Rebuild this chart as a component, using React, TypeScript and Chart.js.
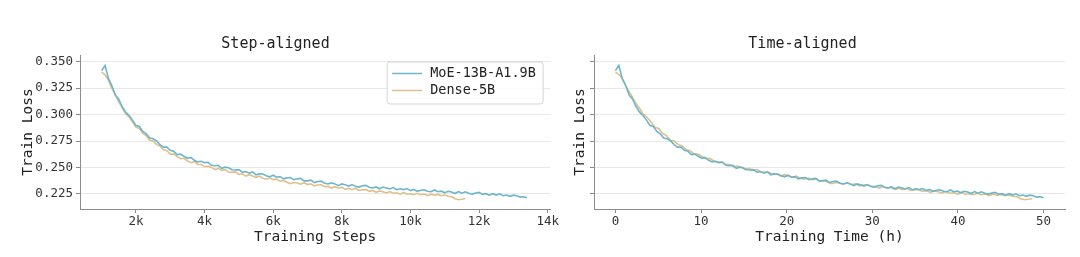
import React, { useEffect, useRef } from "react";
import { Chart, registerables } from "chart.js";

Chart.register(...registerables);

// ---- data -------------------------------------------------------------
const SERIES_NAMES = ["MoE-13B-A1.9B", "Dense-5B"];
const PANEL_TITLES = ["Step-aligned", "Time-aligned"];
const X_TITLES = ["Training Steps", "Training Time (h)"];
const Y_TITLE = "Train Loss";

// logged every STEP_INTERVAL steps starting at STEP_START
const STEP_START = 1000;
const STEP_INTERVAL = 100;
// wall-clock hours covered by each run's logged window
const MOE_TOTAL_HOURS = 50;
const DENSE_TOTAL_HOURS = 48.7;

const MOE_LOSS = [
  0.3415, 0.3465, 0.3340, 0.3273, 0.3184, 0.3145, 0.3074, 0.3023, 0.2992, 0.2948,
  0.2897, 0.2887, 0.2840, 0.2819, 0.2779, 0.2771, 0.2751, 0.2717, 0.2693, 0.2693,
  0.2663, 0.2653, 0.2622, 0.2626, 0.2606, 0.2587, 0.2595, 0.2568, 0.2553, 0.2559,
  0.2546, 0.2550, 0.2521, 0.2517, 0.2521, 0.2493, 0.2503, 0.2498, 0.2479, 0.2476,
  0.2480, 0.2456, 0.2461, 0.2446, 0.2458, 0.2431, 0.2440, 0.2439, 0.2423, 0.2412,
  0.2427, 0.2408, 0.2414, 0.2393, 0.2402, 0.2405, 0.2385, 0.2393, 0.2397, 0.2374,
  0.2374, 0.2380, 0.2358, 0.2368, 0.2371, 0.2351, 0.2344, 0.2355, 0.2345, 0.2328,
  0.2345, 0.2337, 0.2325, 0.2339, 0.2322, 0.2315, 0.2328, 0.2331, 0.2314, 0.2307,
  0.2317, 0.2299, 0.2315, 0.2307, 0.2297, 0.2310, 0.2290, 0.2299, 0.2291, 0.2301,
  0.2282, 0.2293, 0.2275, 0.2286, 0.2290, 0.2275, 0.2271, 0.2288, 0.2271, 0.2277,
  0.2261, 0.2275, 0.2268, 0.2254, 0.2272, 0.2257, 0.2270, 0.2257, 0.2249, 0.2260,
  0.2265, 0.2246, 0.2253, 0.2239, 0.2253, 0.2240, 0.2251, 0.2234, 0.2240, 0.2228,
  0.2239, 0.2233, 0.2220, 0.2224, 0.2214,
];

const DENSE_LOSS = [
  0.3402, 0.3375, 0.3323, 0.3244, 0.3187, 0.3117, 0.3067, 0.3008, 0.2977, 0.2932,
  0.2881, 0.2869, 0.2822, 0.2801, 0.2758, 0.2750, 0.2716, 0.2704, 0.2668, 0.2659,
  0.2626, 0.2627, 0.2605, 0.2583, 0.2587, 0.2562, 0.2546, 0.2556, 0.2529, 0.2529,
  0.2507, 0.2513, 0.2501, 0.2481, 0.2492, 0.2473, 0.2481, 0.2457, 0.2454, 0.2458,
  0.2435, 0.2441, 0.2419, 0.2432, 0.2419, 0.2407, 0.2418, 0.2399, 0.2390, 0.2400,
  0.2386, 0.2390, 0.2371, 0.2378, 0.2361, 0.2347, 0.2358, 0.2354, 0.2343, 0.2356,
  0.2339, 0.2346, 0.2327, 0.2335, 0.2336, 0.2318, 0.2322, 0.2306, 0.2319, 0.2305,
  0.2314, 0.2294, 0.2303, 0.2291, 0.2304, 0.2283, 0.2289, 0.2292, 0.2275, 0.2284,
  0.2266, 0.2279, 0.2271, 0.2260, 0.2273, 0.2257, 0.2261, 0.2248, 0.2264, 0.2247,
  0.2252, 0.2243, 0.2256, 0.2243, 0.2250, 0.2234, 0.2248, 0.2238, 0.2246, 0.2233,
  0.2240, 0.2228, 0.2225, 0.2205, 0.2195, 0.2200, 0.2208,
];

const COLORS = ["#6db6cc", "#dfc08c"];

// axis ranges and ticks
const Y_MIN = 0.2108;
const Y_MAX = 0.3563;
const Y_TICKS = [0.225, 0.25, 0.275, 0.3, 0.325, 0.35];
const STEP_X_MIN = 370;
const STEP_X_MAX = 14072;
const STEP_X_TICKS = [2000, 4000, 6000, 8000, 10000, 12000, 14000];
const TIME_X_MIN = -2.5;
const TIME_X_MAX = 52.5;
const TIME_X_TICKS = [0, 10, 20, 30, 40, 50];

// ---- helpers ------------------------------------------------------------
const FONT = "'DejaVu Sans Mono', monospace";

function stepPoints(loss: number[]) {
  return loss.map((y, i) => ({ x: STEP_START + i * STEP_INTERVAL, y }));
}
function timePoints(loss: number[], totalHours: number) {
  const n = loss.length - 1;
  return loss.map((y, i) => ({ x: (i / n) * totalHours, y }));
}

const legendPlugin = {
  id: "boxLegend",
  afterDraw(chart: any) {
    const area = chart.chartArea;
    const ctx = chart.ctx;
    const w = 156;
    const h = 42;
    const x = area.right - 7 - w;
    const y = area.top + 7;
    ctx.save();
    ctx.beginPath();
    const r = 3;
    ctx.moveTo(x + r, y);
    ctx.lineTo(x + w - r, y);
    ctx.arcTo(x + w, y, x + w, y + r, r);
    ctx.lineTo(x + w, y + h - r);
    ctx.arcTo(x + w, y + h, x + w - r, y + h, r);
    ctx.lineTo(x + r, y + h);
    ctx.arcTo(x, y + h, x, y + h - r, r);
    ctx.lineTo(x, y + r);
    ctx.arcTo(x, y, x + r, y, r);
    ctx.closePath();
    ctx.fillStyle = "rgba(255,255,255,0.85)";
    ctx.fill();
    ctx.strokeStyle = "#d4d4d4";
    ctx.lineWidth = 1;
    ctx.stroke();
    ctx.font = `13.5px ${FONT}`;
    ctx.textBaseline = "middle";
    ctx.textAlign = "left";
    SERIES_NAMES.forEach((name, i) => {
      const ly = y + 11.5 + i * 17;
      ctx.strokeStyle = COLORS[i];
      ctx.lineWidth = 1.5;
      ctx.beginPath();
      ctx.moveTo(x + 5, ly);
      ctx.lineTo(x + 35, ly);
      ctx.stroke();
      ctx.fillStyle = "#222";
      ctx.fillText(name, x + 43, ly);
    });
    ctx.restore();
  },
};

function setTicks(values: number[]) {
  return (scale: any) => {
    scale.ticks = values.map((value) => ({ value }));
  };
}

function makeConfig(panel: number): any {
  const isStep = panel === 0;
  const data0 = isStep ? stepPoints(MOE_LOSS) : timePoints(MOE_LOSS, MOE_TOTAL_HOURS);
  const data1 = isStep ? stepPoints(DENSE_LOSS) : timePoints(DENSE_LOSS, DENSE_TOTAL_HOURS);
  const yAxisWidth = isStep ? 80 : 54;
  return {
    type: "line",
    data: {
      datasets: [
        { label: SERIES_NAMES[0], data: data0, borderColor: COLORS[0], backgroundColor: COLORS[0], borderWidth: 1.6, pointRadius: 0, tension: 0 },
        { label: SERIES_NAMES[1], data: data1, borderColor: COLORS[1], backgroundColor: COLORS[1], borderWidth: 1.6, pointRadius: 0, tension: 0 },
      ],
    },
    options: {
      animation: false,
      responsive: false,
      events: [],
      layout: { padding: { left: 0, right: isStep ? 9 : 15, top: 0, bottom: 0 } },
      plugins: {
        legend: { display: false },
        tooltip: { enabled: false },
        title: {
          display: true,
          text: PANEL_TITLES[panel],
          color: "#222",
          font: { family: FONT, size: 15, weight: "normal" },
          padding: { top: 35, bottom: 2 },
        },
      },
      scales: {
        x: {
          type: "linear",
          min: isStep ? STEP_X_MIN : TIME_X_MIN,
          max: isStep ? STEP_X_MAX : TIME_X_MAX,
          afterFit: (s: any) => { s.height = 48; },
          afterBuildTicks: setTicks(isStep ? STEP_X_TICKS : TIME_X_TICKS),
          ticks: {
            autoSkip: false,
            color: "#333",
            font: { family: FONT, size: 12.5 },
            padding: 1,
            maxRotation: 0,
            callback: (v: number) => (isStep ? `${v / 1000}k` : `${v}`),
          },
          grid: { drawOnChartArea: false, drawTicks: true, tickLength: 4, tickColor: "#8c8c8c" },
          border: { color: "#8c8c8c", width: 1 },
          title: {
            display: true,
            text: X_TITLES[panel],
            color: "#222",
            font: { family: FONT, size: 14.5 },
            padding: { top: 0, bottom: 11 },
          },
        },
        y: {
          type: "linear",
          min: Y_MIN,
          max: Y_MAX,
          afterFit: (s: any) => { s.width = yAxisWidth; },
          afterBuildTicks: setTicks(Y_TICKS),
          ticks: {
            autoSkip: false,
            display: isStep,
            color: "#333",
            font: { family: FONT, size: 12.5 },
            padding: 3,
            callback: (v: number) => v.toFixed(3),
          },
          grid: { color: "#e8e8e8", lineWidth: 1, drawTicks: true, tickLength: 4, tickColor: "#8c8c8c" },
          border: { color: "#8c8c8c", width: 1 },
          title: {
            display: true,
            text: Y_TITLE,
            color: "#222",
            font: { family: FONT, size: 14.5 },
            padding: { top: isStep ? 20 : 32, bottom: 0 },
          },
        },
      },
    },
    plugins: isStep ? [legendPlugin] : [],
  };
}

function Panel({ panel, left, width }: { panel: number; left: number; width: number }) {
  const ref = useRef<HTMLCanvasElement>(null);
  useEffect(() => {
    if (!ref.current) return;
    const chart = new Chart(ref.current, makeConfig(panel));
    return () => chart.destroy();
  }, [panel]);
  return (
    <canvas
      ref={ref}
      width={width}
      height={257}
      style={{ position: "absolute", left, top: 0, width, height: 257 }}
    />
  );
}

export default function App() {
  return (
    <div style={{ position: "fixed", left: 0, top: 0, width: 1080, height: 257, background: "#fff", overflow: "hidden" }}>
      <Panel panel={0} left={0} width={560} />
      <Panel panel={1} left={540} width={540} />
    </div>
  );
}
